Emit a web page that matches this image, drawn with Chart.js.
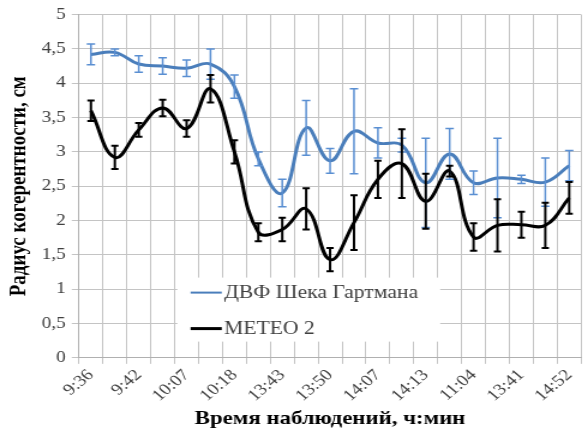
<!DOCTYPE html>
<html>
<head>
<meta charset="utf-8">
<script src="https://cdn.jsdelivr.net/npm/chart.js@4"></script>
<style>
  html, body { margin: 0; padding: 0; background: #fff; overflow: hidden; }
  #wrap { width: 490px; height: 435px; transform: scaleX(1.2); transform-origin: 0 0; }
</style>
</head>
<body>
<div id="wrap"><canvas id="c"></canvas></div>
<script>
// Observation times printed under the axis (every second slot is labelled)
const tickLabels = ['9:36', '9:42', '10:07', '10:18', '13:43', '13:50', '14:07', '14:13', '11:04', '13:41', '14:52'];

// Coherence radius, cm — differential wavefront sensor (Shack–Hartmann)
const hartmann    = [4.42, 4.45, 4.28, 4.25, 4.22, 4.28, 3.95, 2.90, 2.40, 3.35, 2.87, 3.30, 3.13, 3.10, 2.55, 2.97, 2.55, 2.62, 2.60, 2.56, 2.80];
const hartmannErr = [0.15, 0.05, 0.12, 0.12, 0.12, 0.22, 0.17, 0.10, 0.20, 0.40, 0.18, 0.62, 0.22, 0.10, 0.65, 0.37, 0.17, 0.58, 0.06, 0.35, 0.22];

// Coherence radius, cm — METEO 2
const meteo    = [3.60, 2.92, 3.32, 3.64, 3.34, 3.92, 3.00, 1.83, 1.87, 2.17, 1.43, 1.97, 2.60, 2.83, 2.28, 2.72, 1.76, 1.93, 1.94, 1.93, 2.33];
const meteoErr = [0.15, 0.17, 0.10, 0.12, 0.12, 0.20, 0.17, 0.13, 0.17, 0.30, 0.17, 0.40, 0.27, 0.50, 0.40, 0.08, 0.20, 0.38, 0.19, 0.33, 0.23];

const seriesNames = ['ДВФ Шека Гартмана', 'МЕТЕО 2'];

const categories = hartmann.map((_, i) => (i % 2 === 0 ? tickLabels[i / 2] : ''));

const SERIF = "'Liberation Serif', 'Times New Roman', serif";

// Vertical error bars with caps, positioned through the y scale
const errorBars = {
  id: 'errorBars',
  afterDatasetsDraw(chart, args, opts) {
    const ctx = chart.ctx;
    const yScale = chart.scales.y;
    opts.sets.forEach((set, di) => {
      const meta = chart.getDatasetMeta(di);
      const values = chart.data.datasets[di].data;
      ctx.save();
      ctx.strokeStyle = set.color;
      ctx.lineWidth = set.width;
      meta.data.forEach((pt, i) => {
        const top = yScale.getPixelForValue(values[i] + set.errors[i]);
        const bot = yScale.getPixelForValue(values[i] - set.errors[i]);
        ctx.beginPath();
        ctx.moveTo(pt.x, top); ctx.lineTo(pt.x, bot);
        ctx.moveTo(pt.x - set.cap, top); ctx.lineTo(pt.x + set.cap, top);
        ctx.moveTo(pt.x - set.cap, bot); ctx.lineTo(pt.x + set.cap, bot);
        ctx.stroke();
      });
      ctx.restore();
    });
  }
};

// Legend box placed inside the plot area
const insetLegend = {
  id: 'insetLegend',
  beforeDatasetsDraw(chart, args, o) {
    const { ctx, chartArea: a } = chart;
    const x = a.left + o.left, y = a.top + o.top;
    ctx.save();
    ctx.fillStyle = '#ffffff';
    ctx.fillRect(x, y, o.width, o.height);
    ctx.font = o.font;
    ctx.textBaseline = 'middle';
    ctx.textAlign = 'left';
    chart.data.datasets.forEach((ds, i) => {
      const ly = y + o.firstRow + i * o.rowGap;
      ctx.strokeStyle = ds.borderColor;
      ctx.lineWidth = o.lineWidths[i];
      ctx.beginPath();
      ctx.moveTo(x + o.lineStart, ly);
      ctx.lineTo(x + o.lineStart + o.lineLen, ly);
      ctx.stroke();
      ctx.fillStyle = o.color;
      ctx.fillText(ds.label, x + o.textStart, ly + 1);
    });
    ctx.restore();
  }
};

new Chart(document.getElementById('c'), {
  type: 'line',
  data: {
    labels: categories,
    datasets: [
      {
        label: seriesNames[0],
        data: hartmann,
        borderColor: '#4a7ebb',
        borderWidth: 3,
        tension: 0.42,
        pointRadius: 0,
        fill: false
      },
      {
        label: seriesNames[1],
        data: meteo,
        borderColor: '#000000',
        borderWidth: 3,
        tension: 0.42,
        pointRadius: 0,
        fill: false
      }
    ]
  },
  options: {
    responsive: true,
    maintainAspectRatio: false,
    animation: false,
    events: [],
    layout: { padding: { left: 3, right: 4, top: 5, bottom: 5 } },
    scales: {
      x: {
        offset: true,
        grid: { offset: true, color: '#c4c4c4', lineWidth: 1, tickLength: 6, drawTicks: true },
        border: { color: '#b0b0b0' },
        ticks: {
          autoSkip: false,
          minRotation: 45,
          maxRotation: 45,
          padding: 2,
          color: '#404040',
          font: { family: SERIF, size: 16 },
          callback: (v, i) => categories[i]
        },
        title: {
          display: true,
          text: 'Время наблюдений, ч:мин',
          color: '#000',
          font: { family: SERIF, size: 19, weight: 'bold' },
          padding: { top: 0, bottom: 0 }
        }
      },
      y: {
        min: 0,
        max: 5,
        grid: { color: '#c4c4c4', lineWidth: 1, tickLength: 6 },
        border: { color: '#b0b0b0' },
        ticks: {
          stepSize: 0.5,
          padding: 5,
          color: '#404040',
          font: { family: SERIF, size: 16 },
          callback: v => String(Math.round(v * 10) / 10).replace('.', ',')
        },
        title: {
          display: true,
          text: 'Радиус когерентности, см',
          color: '#000',
          font: { family: SERIF, size: 19, weight: 'bold' },
          padding: { top: 2, bottom: 2 }
        }
      }
    },
    plugins: {
      legend: { display: false },
      tooltip: { enabled: false },
      errorBars: {
        sets: [
          { errors: hartmannErr, color: '#5a8fd2', width: 1.5, cap: 3.5 },
          { errors: meteoErr, color: '#000000', width: 2, cap: 3 }
        ]
      },
      insetLegend: {
        left: 82, top: 263, width: 219, height: 64,
        firstRow: 15, rowGap: 36,
        lineStart: 11, lineLen: 26, textStart: 39,
        lineWidths: [2, 3],
        font: "18px " + SERIF,
        color: '#404040'
      }
    }
  },
  plugins: [errorBars, insetLegend]
});
</script>
</body>
</html>
